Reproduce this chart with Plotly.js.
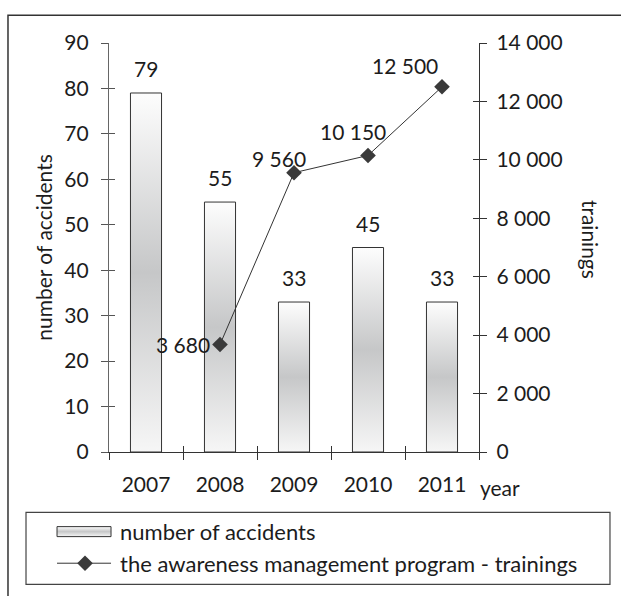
<!DOCTYPE html>
<html>
<head>
<meta charset="utf-8">
<script src="https://cdn.plot.ly/plotly-3.0.1.min.js"></script>
<style>html,body{margin:0;padding:0;background:#fff;}#chart{width:621px;height:596px;}</style>
</head>
<body>
<div id="chart"></div>
<script>
// ---- data ----
var years = ['2007', '2008', '2009', '2010', '2011'];
var accidents = [79, 55, 33, 45, 33];
var trainingYears = ['2008', '2009', '2010', '2011'];
var trainings = [3680, 9560, 10150, 12500];
var accidentsName = 'number of accidents';
var trainingsName = 'the awareness management program - trainings';

// ---- styling ----
var FONT = 'Lato, "Open Sans", sans-serif';
var TXT = '#1c1c1c';
var FS = 21;
// label offsets (px) for the trainings labels, relative to each point
var lblDx = [-8, -15, -15, -37];
var lblDy = [0, 14, 24, 21];
var lblAnchor = ['right', 'center', 'center', 'center'];

function spaced(v) { return String(v).replace(/\B(?=(\d{3})+(?!\d))/g, ' '); }

var traces = [
  {
    type: 'bar', x: years, y: accidents, name: accidentsName,
    width: 0.42, legendgroup: 'a',
    marker: {color: '#d8d8d8', line: {color: '#333', width: 1}},
    hoverinfo: 'skip'
  },
  {
    type: 'scatter', mode: 'lines+markers', x: trainingYears, y: trainings,
    name: trainingsName, yaxis: 'y2', legendgroup: 'b',
    line: {color: '#333', width: 1},
    marker: {symbol: 'diamond', size: 12, color: '#3a3a3a'},
    hoverinfo: 'skip'
  },
  // invisible helpers so the overlay axes (crossing tick marks) exist
  {type: 'scatter', mode: 'none', x: years, y: accidents, xaxis: 'x2', yaxis: 'y3', showlegend: false, hoverinfo: 'skip'},
  {type: 'scatter', mode: 'none', x: trainingYears, y: trainings, xaxis: 'x2', yaxis: 'y4', showlegend: false, hoverinfo: 'skip'}
];

var annotations = [];
for (var i = 0; i < years.length; i++) {
  annotations.push({
    x: i, y: accidents[i], xref: 'x', yref: 'y',
    text: String(accidents[i]), showarrow: false,
    yanchor: 'bottom', yshift: 10,
    font: {family: FONT, size: FS, color: TXT}
  });
}
for (var j = 0; j < trainings.length; j++) {
  annotations.push({
    x: years.indexOf(trainingYears[j]), y: trainings[j], xref: 'x', yref: 'y2',
    text: spaced(trainings[j]), showarrow: false,
    xanchor: lblAnchor[j], yanchor: 'middle',
    xshift: lblDx[j], yshift: lblDy[j],
    font: {family: FONT, size: FS, color: TXT}
  });
}
annotations.push({
  xref: 'paper', yref: 'paper', x: 1.057, y: -0.087, text: 'year', showarrow: false,
  xanchor: 'center', yanchor: 'middle', font: {family: FONT, size: FS, color: TXT}
});
annotations.push({
  xref: 'paper', yref: 'paper', x: 1.30, y: 0.521, text: 'trainings', showarrow: false,
  textangle: 90, xanchor: 'center', yanchor: 'middle', font: {family: FONT, size: FS, color: TXT}
});

var layout = {
  width: 621, height: 596,
  margin: {l: 109, r: 142, t: 43, b: 143, pad: 0},
  paper_bgcolor: '#fff', plot_bgcolor: 'rgba(0,0,0,0)',
  separators: '. ',
  font: {family: FONT, size: FS, color: TXT},
  showlegend: true,
  legend: {
    x: -0.154, y: -0.141, xanchor: 'left', yanchor: 'top',
    bgcolor: 'rgba(0,0,0,0)', borderwidth: 0, itemwidth: 58,
    font: {family: FONT, size: 22, color: TXT},
    tracegroupgap: 8, traceorder: 'normal'
  },
  xaxis: {
    type: 'category', range: [-0.5, 4.5], tickson: 'boundaries',
    ticks: 'outside', ticklen: 7, tickcolor: '#333', tickwidth: 1,
    showline: true, linecolor: '#333', linewidth: 1.2,
    showgrid: false, zeroline: false, fixedrange: true,
    ticklabelstandoff: 14,
    tickfont: {family: FONT, size: FS, color: TXT}
  },
  xaxis2: {
    type: 'category', range: [-0.5, 4.5], overlaying: 'x', anchor: 'y', side: 'bottom',
    tickson: 'boundaries', ticks: 'inside', ticklen: 6, tickcolor: '#333', tickwidth: 1,
    showticklabels: false, showline: false, showgrid: false, zeroline: false
  },
  yaxis: {
    range: [0, 90], dtick: 10, tick0: 0,
    ticks: 'outside', ticklen: 7, tickcolor: '#555', tickwidth: 1,
    showline: true, linecolor: '#666', linewidth: 1.2,
    showgrid: false, zeroline: false, fixedrange: true,
    ticklabelstandoff: 8,
    tickfont: {family: FONT, size: FS, color: TXT},
    title: {text: 'number of accidents', standoff: 5, font: {family: FONT, size: FS, color: TXT}}
  },
  yaxis2: {
    range: [0, 14000], dtick: 2000, tick0: 0, overlaying: 'y', side: 'right',
    ticks: 'outside', ticklen: 7, tickcolor: '#333', tickwidth: 1,
    showline: true, linecolor: '#333', linewidth: 1.2,
    showgrid: false, zeroline: false, fixedrange: true,
    tickformat: ',d', ticklabelstandoff: 5,
    tickfont: {family: FONT, size: FS, color: TXT}
  },
  yaxis3: {
    range: [0, 90], dtick: 10, tick0: 0, overlaying: 'y', side: 'left', anchor: 'x',
    ticks: 'inside', ticklen: 6, tickcolor: '#555', tickwidth: 1,
    showticklabels: false, showline: false, showgrid: false, zeroline: false
  },
  yaxis4: {
    range: [0, 14000], dtick: 2000, tick0: 0, overlaying: 'y', side: 'right', anchor: 'x',
    ticks: 'inside', ticklen: 6, tickcolor: '#333', tickwidth: 1,
    showticklabels: false, showline: false, showgrid: false, zeroline: false
  },
  annotations: annotations,
  shapes: [
    // outer chart frame
    {type: 'rect', xref: 'paper', yref: 'paper', x0: -0.273, x1: 1.6, y0: -1.0, y1: 1.068,
     line: {color: '#333', width: 1.5}, fillcolor: 'rgba(0,0,0,0)', layer: 'below'},
    // legend box
    {type: 'rect', xref: 'paper', yref: 'paper', x0: -0.2243, x1: 1.354, y0: -0.3236, y1: -0.1477,
     line: {color: '#444', width: 1.2}, fillcolor: 'rgba(0,0,0,0)', layer: 'below'}
  ]
};

Plotly.newPlot('chart', traces, layout, {displayModeBar: false, staticPlot: true}).then(function (gd) {
  var svg = gd.querySelector('svg.main-svg');
  var ns = 'http://www.w3.org/2000/svg';
  var defs = svg.querySelector('defs') || svg.insertBefore(document.createElementNS(ns, 'defs'), svg.firstChild);
  var grad = document.createElementNS(ns, 'linearGradient');
  grad.setAttribute('id', 'barGrad');
  grad.setAttribute('x1', '0'); grad.setAttribute('y1', '0');
  grad.setAttribute('x2', '0'); grad.setAttribute('y2', '1');
  [['0', '#fdfdfd'], ['0.5', '#c6c7c8'], ['1', '#f6f6f6']].forEach(function (s) {
    var st = document.createElementNS(ns, 'stop');
    st.setAttribute('offset', s[0]); st.setAttribute('stop-color', s[1]);
    grad.appendChild(st);
  });
  defs.appendChild(grad);
  gd.querySelectorAll('.barlayer .point path').forEach(function (p) { p.style.fill = 'url(#barGrad)'; });
  // widen legend symbols to match the reference's long swatches
  var items = gd.querySelectorAll('.legend .traces');
  if (items[0]) {
    items[0].querySelectorAll('.legendpoints path').forEach(function (p) {
      p.setAttribute('d', 'M-15,5H39V-5H-15Z');
      p.setAttribute('transform', 'translate(20,0)');
      p.style.fill = 'url(#barGrad)';
    });
  }
  if (items[1]) {
    items[1].querySelectorAll('.legendlines path').forEach(function (p) { p.setAttribute('d', 'M5,0h54'); });
    items[1].querySelectorAll('.legendpoints path').forEach(function (p) { p.setAttribute('transform', 'translate(33,0)'); });
  }
});
</script>
</body>
</html>
